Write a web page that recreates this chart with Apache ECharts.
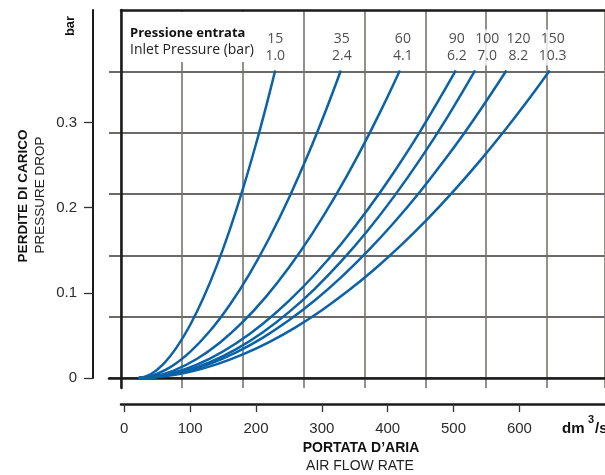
<!DOCTYPE html>
<html>
<head>
<meta charset="utf-8">
<script src="https://cdn.jsdelivr.net/npm/echarts@6/dist/echarts.min.js"></script>
<style>
  html, body { margin: 0; padding: 0; background: #fff; }
  #chart { width: 605px; height: 475px; }
</style>
</head>
<body>
<div id="chart"></div>
<script>
// pressione entrata: psi (riga sopra) e bar (riga sotto)
const inletPsi = ['15', '35', '60', '90', '100', '120', '150'];
const inletBar = ['1.0', '2.4', '4.1', '6.2', '7.0', '8.2', '10.3'];

// portata d'aria (dm3/s), perdita di carico (bar)
const curve15 = [[22, 0], [40, 0.0044], [60, 0.017], [80, 0.0365], [100, 0.0622], [120, 0.0938], [140, 0.131], [160, 0.1737], [180, 0.2216], [200, 0.2747], [215, 0.3177], [229.2, 0.361]];
const curve35 = [[22, 0], [40, 0.0022], [70, 0.0128], [100, 0.0307], [130, 0.0551], [160, 0.0857], [190, 0.122], [220, 0.164], [250, 0.2114], [280, 0.2641], [305, 0.312], [328.9, 0.361]];
const curve60 = [[22, 0], [45, 0.0019], [75, 0.0087], [110, 0.0223], [145, 0.0414], [180, 0.0658], [215, 0.0953], [250, 0.1297], [285, 0.1689], [320, 0.2128], [355, 0.2614], [390, 0.3145], [418.5, 0.361]];
const curve90 = [[22, 0], [50, 0.0019], [90, 0.0097], [130, 0.0227], [170, 0.0407], [210, 0.0634], [250, 0.0905], [290, 0.1221], [330, 0.1579], [370, 0.198], [410, 0.2421], [450, 0.2903], [503.5, 0.361]];
const curve100 = [[22, 0], [50, 0.0014], [90, 0.0077], [130, 0.0186], [170, 0.0339], [210, 0.0535], [250, 0.0773], [290, 0.1053], [330, 0.1374], [370, 0.1734], [410, 0.2135], [450, 0.2575], [490, 0.3054], [532.8, 0.361]];
const curve120 = [[22, 0], [50, 0.0013], [90, 0.007], [130, 0.0167], [170, 0.0301], [210, 0.0471], [250, 0.0677], [290, 0.0915], [330, 0.1187], [370, 0.1491], [410, 0.1828], [450, 0.2196], [490, 0.2596], [530, 0.3026], [580.3, 0.361]];
const curve150 = [[22, 0], [60, 0.0019], [100, 0.0074], [140, 0.016], [180, 0.0277], [220, 0.0422], [260, 0.0595], [300, 0.0796], [340, 0.1023], [380, 0.1277], [420, 0.1557], [460, 0.1862], [500, 0.2193], [540, 0.2549], [580, 0.2929], [615, 0.3281], [646, 0.361]];

const xTicks = [0, 100, 200, 300, 400, 500, 600];
const yTicks = [0, 0.1, 0.2, 0.3];

const curves = [curve15, curve35, curve60, curve90, curve100, curve120, curve150];
const labelDx = [0, 1, 3, 1, 12, 12, 3]; // spostamento etichette

const blue = '#0b62a7';
const chart = echarts.init(document.getElementById('chart'));

const series = curves.map(function (c, i) {
  return {
    name: inletPsi[i],
    type: 'line',
    xAxisIndex: 0,
    yAxisIndex: 0,
    data: c,
    showSymbol: false,
    smooth: 0.4,
    lineStyle: { color: blue, width: 2.5 },
    z: 3
  };
});

// etichette in cima alle curve
series.push({
  type: 'scatter',
  xAxisIndex: 0,
  yAxisIndex: 0,
  symbolSize: 0,
  z: 5,
  data: curves.map(function (c, i) {
    return {
      value: c[c.length - 1],
      label: { offset: [labelDx[i], 0] }
    };
  }),
  label: {
    show: true,
    position: 'top',
    distance: 5,
    formatter: function (p) {
      return inletPsi[p.dataIndex] + '\n' + inletBar[p.dataIndex];
    },
    fontFamily: 'Open Sans',
    fontSize: 14,
    lineHeight: 17,
    color: '#222',
    backgroundColor: '#fff',
    padding: [1, 2]
  }
});

chart.setOption({
  animation: false,
  grid: [
    { left: 121, right: 0, top: 10, height: 368, outerBoundsMode: 'none' },   // dati
    { left: 121, right: 0, top: 10, height: 378, outerBoundsMode: 'none' },   // griglia verticale
    { left: 109, right: 0, top: 10, height: 368, outerBoundsMode: 'none' }    // griglia orizzontale
  ],
  xAxis: [
    {
      type: 'value', gridIndex: 0, min: -5, max: 730, offset: 26,
      axisLine: { show: true, onZero: false, lineStyle: { color: '#1a1a1a', width: 2.5 } },
      axisTick: { show: true, customValues: xTicks, length: 8, lineStyle: { color: '#333', width: 1.3 } },
      axisLabel: { customValues: xTicks, margin: 17, fontFamily: 'Liberation Sans', fontSize: 15, color: '#2b2b2b' },
      splitLine: { show: false }
    },
    {
      type: 'value', gridIndex: 1, position: 'top', min: 0, max: 7.953, interval: 1,
      axisLine: { show: true, onZero: false, lineStyle: { color: '#1a1a1a', width: 2.5 } },
      axisTick: { show: false }, axisLabel: { show: false },
      splitLine: { show: true, lineStyle: { color: '#77756f', width: 1.6 } }
    },
    {
      type: 'value', gridIndex: 2, position: 'bottom', min: 0, max: 1,
      axisLine: { show: true, onZero: false, lineStyle: { color: '#1a1a1a', width: 2.5 } },
      axisTick: { show: false }, axisLabel: { show: false }, splitLine: { show: false }
    }
  ],
  yAxis: [
    {
      type: 'value', gridIndex: 0, min: 0, max: 0.432, offset: 28,
      axisLine: { show: true, onZero: false, lineStyle: { color: '#1a1a1a', width: 2 } },
      axisTick: { show: true, customValues: yTicks, length: 9, lineStyle: { color: '#333', width: 1.3 } },
      axisLabel: {
        customValues: yTicks, margin: 16, fontFamily: 'Liberation Sans', fontSize: 15, color: '#2b2b2b',
        formatter: function (v) { return v === 0 ? '0' : v.toFixed(1); }
      },
      splitLine: { show: false }
    },
    {
      type: 'value', gridIndex: 1, min: 0, max: 1,
      axisLine: { show: true, onZero: false, lineStyle: { color: '#1a1a1a', width: 2.5 } },
      axisTick: { show: false }, axisLabel: { show: false }, splitLine: { show: false }
    },
    {
      type: 'value', gridIndex: 2, min: 0, max: 6, interval: 1,
      axisLine: { show: false }, axisTick: { show: false }, axisLabel: { show: false },
      splitLine: { show: true, showMaxLine: false, lineStyle: { color: '#3a3936', width: 1.6 } }
    }
  ],
  graphic: [
    { type: 'rect', z: 10, shape: { x: 123, y: 12, width: 136, height: 50 }, style: { fill: '#fff' } },
    { type: 'text', z: 11, x: 130, y: 33, style: { text: 'Pressione entrata', fontFamily: 'Open Sans', fontWeight: 'bold', fontSize: 13, fill: '#111', textVerticalAlign: 'middle' } },
    { type: 'text', z: 11, x: 130, y: 50, style: { text: 'Inlet Pressure (bar)', fontFamily: 'Open Sans', fontSize: 14, fill: '#222', textVerticalAlign: 'middle' } },
    { type: 'text', z: 11, x: 70, y: 26, rotation: Math.PI / 2, style: { text: 'bar', fontFamily: 'Liberation Sans', fontWeight: 'bold', fontSize: 13, fill: '#111', textAlign: 'center', textVerticalAlign: 'middle' } },
    { type: 'text', z: 11, x: 23, y: 196, rotation: Math.PI / 2, style: { text: 'PERDITE DI CARICO', fontFamily: 'Liberation Sans', fontWeight: 'bold', fontSize: 13.5, fill: '#111', textAlign: 'center', textVerticalAlign: 'middle' } },
    { type: 'text', z: 11, x: 40, y: 195, rotation: Math.PI / 2, style: { text: 'PRESSURE DROP', fontFamily: 'Liberation Sans', fontSize: 13.5, fill: '#222', textAlign: 'center', textVerticalAlign: 'middle' } },
    { type: 'text', z: 11, x: 361, y: 448, style: { text: 'PORTATA D\u2019ARIA', fontFamily: 'Liberation Sans', fontWeight: 'bold', fontSize: 14, fill: '#111', textAlign: 'center', textVerticalAlign: 'middle' } },
    { type: 'text', z: 11, x: 360, y: 466, style: { text: 'AIR FLOW RATE', fontFamily: 'Liberation Sans', fontSize: 14, fill: '#222', textAlign: 'center', textVerticalAlign: 'middle' } },
    { type: 'text', z: 11, x: 562, y: 429, style: { text: 'dm', fontFamily: 'Liberation Sans', fontWeight: 'bold', fontSize: 15, fill: '#111', textVerticalAlign: 'middle' } },
    { type: 'text', z: 11, x: 588, y: 420, style: { text: '3', fontFamily: 'Liberation Sans', fontWeight: 'bold', fontSize: 11, fill: '#111', textVerticalAlign: 'middle' } },
    { type: 'text', z: 11, x: 595, y: 429, style: { text: '/s', fontFamily: 'Liberation Sans', fontWeight: 'bold', fontSize: 15, fill: '#111', textVerticalAlign: 'middle' } }
  ],
  series: series
});
</script>
</body>
</html>
